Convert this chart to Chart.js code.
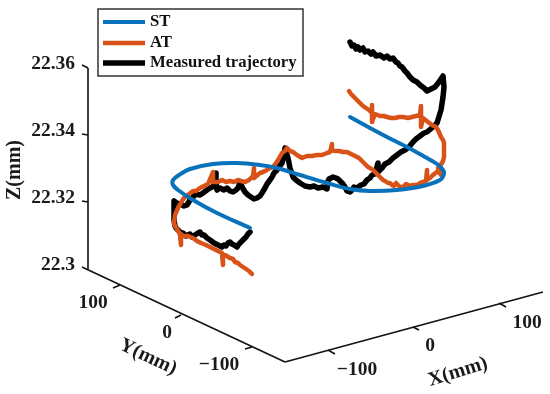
<!DOCTYPE html>
<html>
<head>
<meta charset="utf-8">
<style>
  html, body { margin: 0; padding: 0; background: #fff; }
  #wrap { width: 550px; height: 394px; }
</style>
<script src="https://cdn.jsdelivr.net/npm/chart.js@4"></script>
</head>
<body>
<div id="wrap"><canvas id="chart" width="550" height="394"></canvas></div>
<script>
// 3D view flattened to the picture plane: U runs right, V runs down
const stU = [350, 370, 387, 407, 425, 437, 443, 444, 440, 423, 397, 370, 350, 327, 300, 277, 260, 237, 213, 190, 179, 173, 173, 178, 193, 217, 250];
const stV = [117, 128, 137, 147, 157, 164, 170, 174, 180, 186, 190, 191, 189, 183, 175, 168, 165, 163, 164, 169, 175, 180, 185, 190, 200, 213, 228];

const atU = [349, 351, 354, 357, 360, 363, 366, 369, 372, 372, 372, 375, 380, 384, 387, 391, 395, 399, 403, 408, 412, 416, 420, 421, 421, 423, 428, 432, 436, 438, 441, 443, 444, 444, 444, 443, 442, 438, 441, 438, 433, 430, 427, 427, 426, 423, 420, 417, 413, 410, 406, 403, 400, 398, 396, 394, 392, 390, 388, 385, 383, 380, 378, 375, 373, 370, 368, 365, 363, 359, 355, 351, 347, 343, 339, 335, 332, 332, 330, 327, 322, 317, 312, 307, 302, 297, 293, 290, 287, 285, 282, 278, 276, 273, 270, 267, 263, 260, 254, 254, 253, 249, 245, 241, 238, 234, 230, 226, 222, 218, 215, 213, 213, 208, 204, 200, 196, 193, 188, 184, 182, 178, 175, 174, 175, 177, 179, 180, 181, 181, 183, 188, 193, 197, 201, 206, 210, 216, 222, 223, 223, 225, 230, 233, 235, 238, 240, 243, 246, 249, 252];
const atV = [91, 94, 97, 100, 103, 106, 108, 110, 113, 105, 122, 114, 116, 116, 117, 118, 118, 117, 117, 118, 117, 116, 115, 106, 127, 118, 122, 125, 127, 130, 137, 140, 143, 150, 157, 161, 163, 168, 175, 171, 175, 178, 180, 170, 181, 182, 183, 185, 185, 186, 184, 187, 187, 185, 183, 186, 185, 183, 183, 181, 180, 177, 175, 172, 170, 168, 167, 164, 162, 158, 156, 154, 152, 152, 151, 151, 150, 144, 152, 153, 155, 155, 156, 156, 158, 155, 152, 151, 148, 151, 153, 160, 163, 167, 168, 170, 172, 173, 178, 168, 176, 180, 182, 181, 180, 182, 181, 182, 180, 182, 182, 182, 172, 184, 186, 188, 191, 191, 195, 198, 201, 208, 215, 223, 226, 229, 232, 235, 245, 234, 236, 236, 238, 241, 243, 245, 247, 250, 253, 265, 255, 255, 258, 259, 262, 263, 265, 267, 269, 271, 274];

const measU = [350, 352, 354, 356, 358, 360, 363, 365, 368, 371, 373, 376, 380, 384, 387, 390, 393, 396, 398, 400, 402, 405, 407, 410, 413, 417, 420, 424, 427, 431, 435, 439, 443, 444, 443, 441, 437, 433, 427, 424, 420, 416, 413, 409, 405, 401, 397, 393, 389, 385, 382, 378, 378, 375, 372, 370, 367, 364, 361, 357, 354, 352, 350, 347, 345, 343, 341, 338, 336, 333, 329, 328, 327, 323, 318, 314, 310, 305, 300, 296, 293, 290, 288, 285, 284, 282, 279, 277, 274, 272, 270, 267, 265, 262, 260, 257, 254, 251, 248, 245, 242, 240, 238, 236, 233, 230, 227, 224, 220, 217, 216, 216, 214, 210, 207, 203, 200, 196, 193, 190, 187, 184, 180, 177, 174, 174, 174, 175, 176, 178, 180, 183, 186, 190, 192, 195, 198, 200, 202, 204, 207, 210, 214, 218, 222, 224, 226, 228, 230, 232, 234, 237, 239, 242, 244, 246, 248, 250];
const measV = [42, 46, 45, 49, 47, 50, 48, 52, 51, 54, 52, 56, 55, 58, 56, 59, 58, 62, 63, 66, 67, 71, 73, 77, 80, 82, 85, 88, 91, 89, 87, 82, 76, 87, 97, 110, 123, 127, 132, 133, 136, 139, 142, 147, 150, 152, 155, 158, 162, 164, 168, 172, 163, 174, 175, 178, 180, 184, 185, 188, 187, 190, 192, 191, 187, 184, 182, 179, 178, 177, 179, 181, 189, 187, 188, 186, 187, 186, 183, 180, 177, 168, 158, 148, 155, 163, 167, 170, 173, 177, 180, 184, 188, 193, 196, 198, 199, 197, 195, 192, 187, 182, 188, 190, 192, 191, 188, 190, 188, 190, 182, 173, 186, 188, 190, 193, 195, 194, 197, 200, 205, 206, 204, 203, 201, 210, 220, 226, 228, 230, 232, 233, 236, 234, 237, 235, 233, 232, 235, 235, 238, 240, 243, 245, 247, 245, 246, 243, 242, 244, 245, 247, 244, 241, 239, 237, 234, 232];

// axis frame and tick marks, each one a short run in the same plane
const zAxisU = [88, 88], zAxisV = [68, 269];
const yAxisU = [82, 285], yAxisV = [267, 362];
const xAxisU = [285, 543], xAxisV = [362, 292];
const tickRuns = [
  [[82, 65], [88, 68]], [[82, 134], [88, 135]], [[82, 201], [88, 202]],
  [[113, 288], [120, 285]], [[175, 318], [181, 315]], [[245, 349], [252, 347]],
  [[328, 350], [335, 354]], [[413, 327], [419, 330]], [[499, 303], [506, 307]]
];

const zTickLabels = ["22.36", "22.34", "22.32", "22.3"];
const zTickV = [64, 131, 198, 265];
const yTickLabels = ["100", "0", "\u2212100"];
const yTickU = [93, 167, 219], yTickV = [303, 333, 365];
const xTickLabels = ["\u2212100", "0", "100"];
const xTickU = [357, 430, 527], xTickV = [370, 346, 323];

const seriesNames = ["ST", "AT", "Measured trajectory"];
const seriesColors = ["#0a72ba", "#d95319", "#000000"];
const seriesWidths = [4, 4.5, 5.5];

function pairs(us, vs) {
  return us.map((u, i) => ({ x: u, y: vs[i] }));
}

function frameLine(points) {
  return { data: points, borderColor: "#111", borderWidth: 1.6, pointRadius: 0, showLine: true, tension: 0 };
}

const frameSets = [
  frameLine(pairs(zAxisU, zAxisV)),
  frameLine(pairs(yAxisU, yAxisV)),
  frameLine(pairs(xAxisU, xAxisV))
].concat(tickRuns.map(r => frameLine(r.map(p => ({ x: p[0], y: p[1] })))));

function trace(i, us, vs, tension) {
  return {
    label: seriesNames[i],
    data: pairs(us, vs),
    borderColor: seriesColors[i],
    borderWidth: seriesWidths[i],
    pointRadius: 0,
    showLine: true,
    tension: tension,
    borderJoinStyle: "round",
    borderCapStyle: "round"
  };
}

// text and legend box sit on top of the flattened view
const annotations = {
  id: "annotations",
  afterDatasetsDraw(chart) {
    const { ctx, scales } = chart;
    const px = u => scales.x.getPixelForValue(u);
    const py = v => scales.y.getPixelForValue(v);

    function label(text, u, v, size, align, angle) {
      ctx.save();
      ctx.translate(px(u), py(v));
      ctx.rotate((angle || 0) * Math.PI / 180);
      ctx.font = `bold ${size}px "Liberation Serif"`;
      ctx.fillStyle = "#1a1a1a";
      ctx.textAlign = align;
      ctx.textBaseline = "middle";
      ctx.fillText(text, 0, 0);
      ctx.restore();
    }

    zTickLabels.forEach((t, i) => label(t, 75, zTickV[i], 19.5, "right"));
    yTickLabels.forEach((t, i) => label(t, yTickU[i], yTickV[i], 19.5, "center"));
    xTickLabels.forEach((t, i) => label(t, xTickU[i], xTickV[i], 19.5, "center"));
    label("Z(mm)", 15, 170, 20, "center", -90);
    label("Y(mm)", 148, 357, 20, "center", 25);
    label("X(mm)", 458, 372, 20, "center", -17);

    // legend
    ctx.save();
    ctx.fillStyle = "#fff";
    ctx.strokeStyle = "#333";
    ctx.lineWidth = 1.5;
    ctx.fillRect(px(98), py(9), px(303) - px(98), py(76) - py(9));
    ctx.strokeRect(px(98), py(9), px(303) - px(98), py(76) - py(9));
    [22, 43, 63].forEach((v, i) => {
      ctx.beginPath();
      ctx.moveTo(px(103), py(v));
      ctx.lineTo(px(145), py(v));
      ctx.strokeStyle = seriesColors[i];
      ctx.lineWidth = seriesWidths[i];
      ctx.stroke();
      ctx.font = 'bold 16.7px "Liberation Serif"';
      ctx.fillStyle = "#111";
      ctx.textAlign = "left";
      ctx.textBaseline = "middle";
      ctx.fillText(seriesNames[i], px(150), py(v));
    });
    ctx.restore();
  }
};

new Chart(document.getElementById("chart"), {
  type: "scatter",
  data: {
    datasets: frameSets.concat([
      trace(0, stU, stV, 0.35),
      trace(1, atU, atV, 0),
      trace(2, measU, measV, 0)
    ])
  },
  options: {
    responsive: false,
    animation: false,
    layout: { padding: 0 },
    plugins: { legend: { display: false }, tooltip: { enabled: false } },
    scales: {
      x: { type: "linear", min: 0, max: 550, display: false },
      y: { type: "linear", min: 0, max: 394, reverse: true, display: false }
    }
  },
  plugins: [annotations]
});
</script>
</body>
</html>
